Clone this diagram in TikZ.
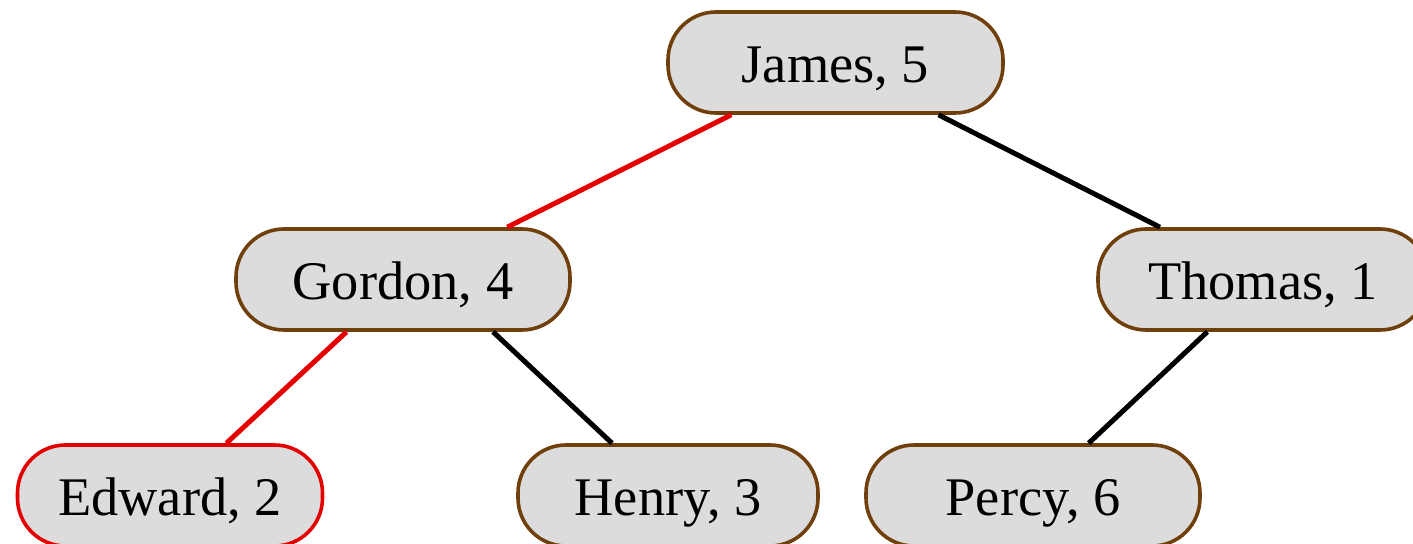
\documentclass[tikz,border=0pt]{standalone}
\usepackage{fontspec}
\setmainfont{Liberation Serif}
\usetikzlibrary{calc}
\definecolor{nodeborder}{RGB}{112,64,12}
\definecolor{nodefill}{RGB}{220,220,220}
\definecolor{pathred}{RGB}{228,0,0}
\tikzset{
  tnode/.style={draw=nodeborder, fill=nodefill, line width=0.9pt, rounded corners=12pt,
    minimum height=25.25pt, inner sep=0pt, font=\fontsize{13.6}{16}\selectfont, text=black,
    text depth=1.5pt, text height=11.5pt},
  redbox/.style={draw=pathred},
  edge/.style={line width=1.25pt, black},
  rededge/.style={line width=1.25pt, pathred},
}
\begin{document}
\begin{tikzpicture}[x=0.25pt, y=-0.25pt]
\useasboundingbox (0,0) rectangle (1413,544);
\clip (0,0) rectangle (1413,544);
\node[tnode, minimum width=83.75pt] (james) at (835.5,62.5) {James, 5};
\node[tnode, minimum width=83.5pt] (gordon) at (403,279.5) {Gordon, 4};
\node[tnode, minimum width=82.5pt] (thomas) at (1263,279.5) {Thomas, 1};
\node[tnode, redbox, minimum width=76.25pt] (edward) at (170,495.5) {Edward, 2};
\node[tnode, minimum width=75pt] (henry) at (668,495.5) {Henry, 3};
\node[tnode, minimum width=83.5pt] (percy) at (1033,495.5) {Percy, 6};
\draw[rededge] (james) -- (gordon);
\draw[edge] (james) -- (thomas);
\draw[rededge] (gordon) -- (edward);
\draw[edge] ([xshift=22.5pt]gordon.south) -- ([xshift=-14pt]henry.north);
\draw[edge] (thomas) -- (percy);
\end{tikzpicture}
\end{document}
